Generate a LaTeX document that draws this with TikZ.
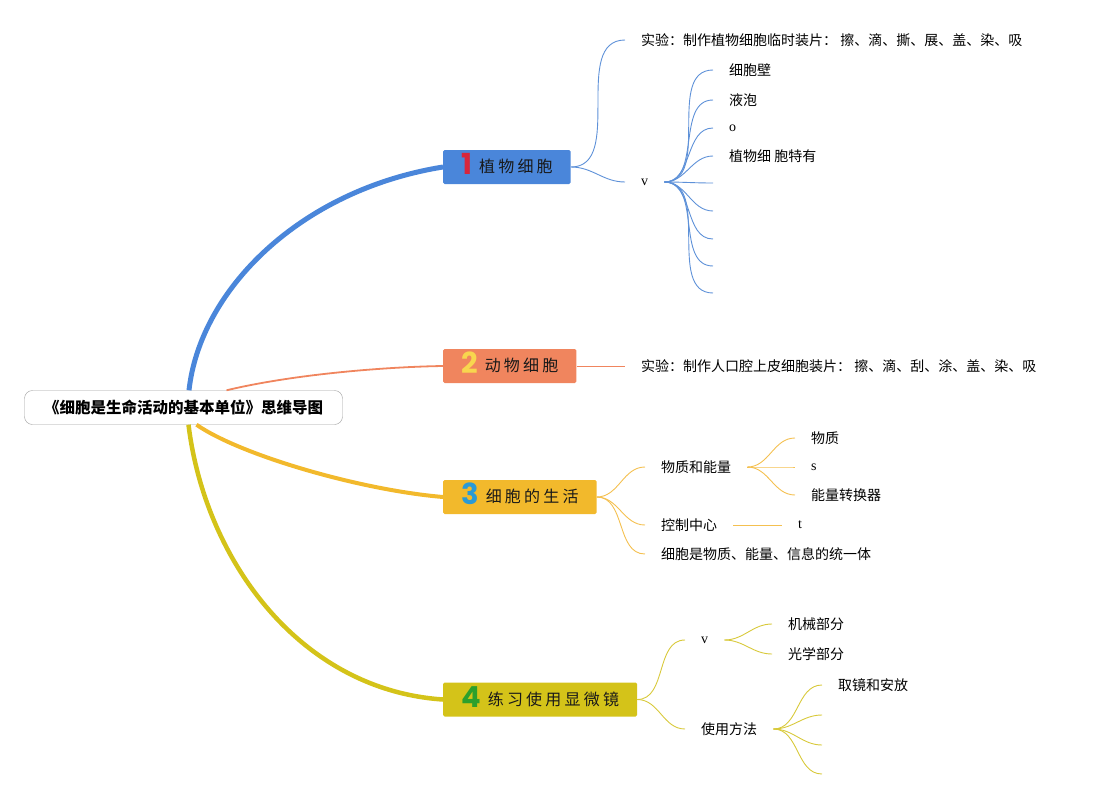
\documentclass[tikz,border=0pt]{standalone}
\usepackage{fontspec}
\usepackage{xcolor}
\usepackage{tikz}
\usetikzlibrary{
	positioning,						% Relative positioning
	calc								% Coordinate calculations
}
\setmainfont{Liberation Serif}
\newfontfamily\cjk{Noto Sans CJK SC}
\newfontfamily\branchfont{Noto Sans CJK SC}[LetterSpace=20]
\newfontfamily\numfont{Poppins}
\definecolor{topic-blue}{HTML}{4A86DA}
\definecolor{topic-salmon}{HTML}{F0855E}
\definecolor{topic-orange}{HTML}{F2B92C}
\definecolor{topic-olive}{HTML}{D4C319}
\definecolor{twig-blue}{HTML}{5E91D8}
\definecolor{twig-orange}{HTML}{F4C050}
\definecolor{twig-olive}{HTML}{D8C93A}
\definecolor{num-red}{HTML}{D7263D}
\definecolor{num-yellow}{HTML}{F8D64E}
\definecolor{num-blue}{HTML}{2A9AD6}
\definecolor{num-green}{HTML}{2CA02C}

\begin{document}
\begin{tikzpicture}[x=1pt, y=-1pt]
		\tikzstyle{root} = [draw=gray!75, fill=white, rounded corners=8pt, minimum width=318pt, minimum height=34pt, font=\cjk\bfseries\fontsize{15.5}{18}\selectfont]
		\tikzstyle{topic} = [anchor=west, minimum height=34pt, inner xsep=18pt, inner ysep=0pt, rounded corners=1.5pt, text=black!90, font=\branchfont\fontsize{16}{18}\selectfont]
		\tikzstyle{leaf} = [anchor=west, inner xsep=16pt, inner ysep=2pt, font=\cjk\fontsize{14}{17}\selectfont]
		\tikzstyle{latinleaf} = [leaf, font=\rmfamily\fontsize{14}{17}\selectfont]
		\tikzstyle{twig} = [line width=0.9pt]
		\newcommand{\topicnum}[2]{\raisebox{-2pt}{\smash{\numfont\bfseries\fontsize{29}{29}\selectfont\color{#1}#2}}\hspace{7pt}}
		
		\useasboundingbox (0,0) rectangle (1097,800);
		
		% Root
		\node[root] at (183.5,407.5) (root) {《细胞是生命活动的基本单位》思维导图};
		
		% Topics
		\node[topic, fill=topic-blue] at (443,167) (plantTopic) {\topicnum{num-red}{1}植物细胞};
		\node[topic, fill=topic-salmon] at (443,366) (animalTopic) {\topicnum{num-yellow}{2}动物细胞};
		\node[topic, fill=topic-orange] at (443,497) (lifeTopic) {\topicnum{num-blue}{3}细胞的生活};
		\node[topic, fill=topic-olive] at (443,699.5) (scopeTopic) {\topicnum{num-green}{4}练习使用显微镜};
		%% Main branches
		\draw[topic-blue, line width=5pt] ([xshift=5.5pt]root.north) .. controls (200,290) and (300,190) .. (plantTopic.west);
		\draw[topic-salmon, line width=1.8pt] ([xshift=43pt]root.north) .. controls (290,375) and (380,367) .. (animalTopic.west);
		\draw[topic-orange, line width=4pt] ([xshift=13pt]root.south) .. controls (240,455) and (360,490) .. (lifeTopic.west);
		\draw[topic-olive, line width=4.5pt] ([xshift=5pt]root.south) .. controls (205,560) and (300,690) .. (scopeTopic.west);
		
		% Topic 1: plant cell
		\node[leaf] at (625,40) (plantExpt) {实验：制作植物细胞临时装片：\ 擦、滴、撕、展、盖、染、吸};
		\node[latinleaf] at (625,182) (plantV) {v};
		\draw[twig, twig-blue] (plantTopic.east) to[out=0, in=180] (plantExpt.west);
		\draw[twig, twig-blue] (plantTopic.east) to[out=0, in=180] (plantV.west);
		%% Leaves with text
		\foreach \idx/\y/\txt in {1/70/细胞壁, 2/100/液泡, 3/128/{\rmfamily o}, 4/156/植物细\ 胞特有}{
			\node[leaf] at (713,\y) (plantLeaf\idx) {\txt};
			\draw[twig, twig-blue] (plantV.east) to[out=0, in=180] (plantLeaf\idx.west);
		}
		%% Empty leaves
		\foreach \idx/\y in {5/183, 6/211, 7/239, 8/266, 9/293}{
			\coordinate (plantLeaf\idx) at (713,\y);
			\draw[twig, twig-blue] (plantV.east) to[out=0, in=180] (plantLeaf\idx);
		}
		
		% Topic 2: animal cell
		\node[leaf] at (625,366) (animalExpt) {实验：制作人口腔上皮细胞装片：\ 擦、滴、刮、涂、盖、染、吸};
		\draw[twig, topic-salmon] (animalTopic.east) -- (animalExpt.west);
		
		% Topic 3: life of the cell
		\node[leaf] at (645,467) (matEnergy) {物质和能量};
		\node[leaf] at (645,525) (ctrlCenter) {控制中心};
		\node[leaf] at (645,554) (unity) {细胞是物质、能量、信息的统一体};
		\foreach \child in {matEnergy, ctrlCenter, unity}{
			\draw[twig, twig-orange] (lifeTopic.east) to[out=0, in=180] (\child.west);
		}
		%% Matter and energy
		\node[leaf] at (795,438) (matter) {物质};
		\node[latinleaf] at (795,467) (matS) {s};
		\node[leaf] at (795,495) (converter) {能量转换器};
		\foreach \child in {matter, matS, converter}{
			\draw[twig, twig-orange] (matEnergy.east) to[out=0, in=180] (\child.west);
		}
		%% Control center
		\node[latinleaf] at (782,525) (ctrlT) {t};
		\draw[twig, twig-orange] (ctrlCenter.east) -- (ctrlT.west);
		
		% Topic 4: microscope
		\node[latinleaf] at (685,640) (partsV) {v};
		\node[leaf] at (685,729) (usage) {使用方法};
		\draw[twig, twig-olive] (scopeTopic.east) to[out=0, in=180] (partsV.west);
		\draw[twig, twig-olive] (scopeTopic.east) to[out=0, in=180] (usage.west);
		%% Parts
		\node[leaf] at (772,624) (mechPart) {机械部分};
		\node[leaf] at (772,654) (optPart) {光学部分};
		\draw[twig, twig-olive] (partsV.east) to[out=0, in=180] (mechPart.west);
		\draw[twig, twig-olive] (partsV.east) to[out=0, in=180] (optPart.west);
		%% Usage steps
		\node[leaf] at (822,685) (usageStep1) {取镜和安放};
		\draw[twig, twig-olive] (usage.east) to[out=0, in=180] (usageStep1.west);
		\foreach \idx/\y in {2/715, 3/745, 4/774}{
			\coordinate (usageStep\idx) at (822,\y);
			\draw[twig, twig-olive] (usage.east) to[out=0, in=180] (usageStep\idx);
		}
	\end{tikzpicture}
\end{document}
